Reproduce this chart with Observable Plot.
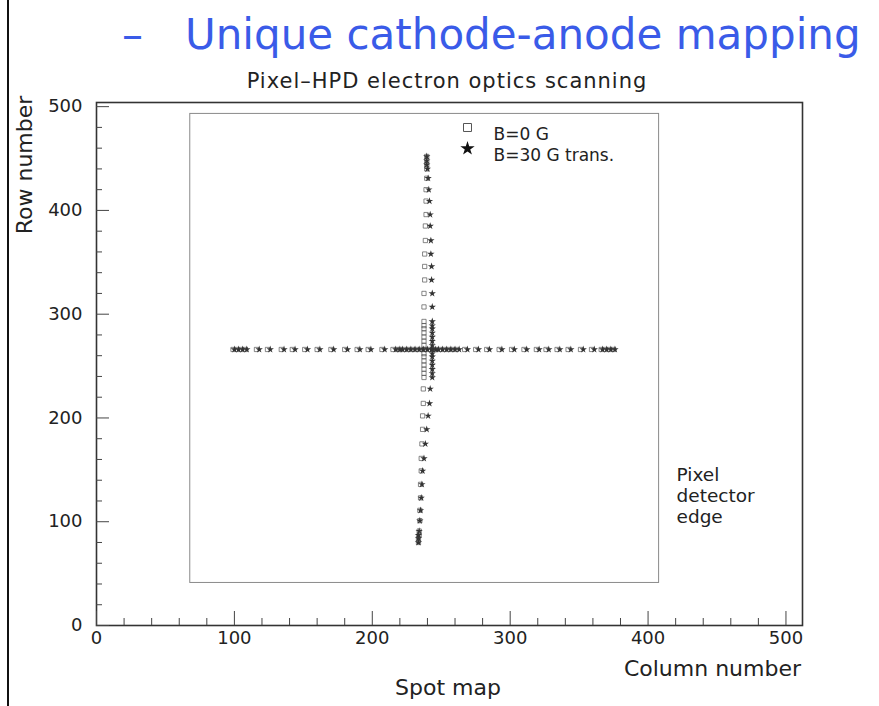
<!DOCTYPE html>
<html><head><meta charset="utf-8">
<script src="https://cdn.jsdelivr.net/npm/d3@7"></script>
<script src="https://cdn.jsdelivr.net/npm/@observablehq/plot@0.6"></script>
<style>
html,body{margin:0;padding:0;background:#fff;}
#wrap{position:relative;width:879px;height:706px;overflow:hidden;font-family:"DejaVu Sans",sans-serif;}
#chart{position:absolute;left:0;top:0;}
.t{position:absolute;white-space:nowrap;line-height:1;color:#222;}
#border{position:absolute;left:7px;top:0;width:2px;height:706px;background:#111;}
</style></head><body>
<div id="wrap"><div id="chart"></div><div id="border"></div></div>
<script>
// ---- data ----
// vertical scan (column ~fixed, rows stepped)
const vRowsB0  = [452,448,444,440,431,420,409,396,385,371,358,346,333,320,307,293,289,286,282,278,274,270,266,262,259,255,251,247,243,239,228,214,202,189,175,161,149,136,123,111,101,91,87,84,80];
const vColsB0  = [239.5,239.5,239.5,239.5,239.5,239,239,239,238.5,238.5,238,238,238,237.5,237.5,237.5,237.5,237.5,237.5,237.5,237.5,237.5,237.5,237.5,237.5,237.5,237.5,237.5,237.5,237.5,237,237,236.5,236.5,236,235.5,235.5,235,235,234.5,234.5,234,234,233.5,233.5];
const vRowsB30 = [452,448,444,440,431,420,409,396,385,371,358,346,333,320,307,293,289,286,282,278,274,270,266,262,259,255,251,247,243,239,228,214,202,189,175,161,149,136,123,111,101,91,87,84,80];
const vColsB30 = [239.5,239.5,239.5,240,240.5,241,241.5,242,242,242.5,242.5,243,243,243.5,243.5,243.5,243.5,243.5,243.5,243.5,243.5,243.5,243.5,243.5,243.5,243.5,243.5,243.5,243.5,243.5,242,241.5,240.5,239.5,238.5,237.5,236.5,236,235.5,235,234.5,234,233.5,233.5,233.5];
// horizontal scan (row ~fixed, columns stepped)
const hColsB0  = [99,102,105,108,116,124,134,142,151,160,170,180,189,197,207,215,218,220,223,226,229,232,235,238,241,244,246,249,252,255,258,261,267,275,283,292,301,310,319,326,334,342,351,359,366,369,372,375];
const hRowsB0  = [266,266,266,266,266,266,266,266,266,266,266,266,266,266,266,266,266,266,266,266,266,266,266,266,266,266,266,266,266,266,266,266,266,266,266,266,266,266,266,266,266,266,266,266,266,266,266,266];
const hColsB30 = [100,103,106,109,118,126,136,144,153,162,172,182,191,199,209,217,220,222,225,228,231,234,237,240,243,246,248,251,254,257,260,263,269,277,285,294,303,312,321,328,336,344,353,361,367,370,373,376];
const hRowsB30 = [266,266,266,266,266,266,266,266,266,266,266,266,266,266,266,266,266,266,266,266,266,266,266,266,266,266,266,266,266,266,266,266,266,266,266,266,266,266,266,266,266,266,266,266,266,266,266,266];
// pixel detector edge (column/row bounds)
const detCols = [68, 408];
const detRows = [41, 493];
// axes
const xDomain = [0, 512];
const yDomain = [0, 504];
const xMajor = [0,100,200,300,400,500];
const yMajor = [0,100,200,300,400,500];
const xMinor = [20,40,60,80,120,140,160,180,220,240,260,280,320,340,360,380,420,440,460,480];
const yMinor = [20,40,60,80,120,140,160,180,220,240,260,280,320,340,360,380,420,440,460,480];
const legendLabels = ["B=0 G", "B=30 G trans."];

const b0 = vRowsB0.map((r,i)=>({x:vColsB0[i], y:r})).concat(hColsB0.map((c,i)=>({x:c, y:hRowsB0[i]})));
const b30 = vRowsB30.map((r,i)=>({x:vColsB30[i], y:r})).concat(hColsB30.map((c,i)=>({x:c, y:hRowsB30[i]})));

const ink = "#222";
const chart = Plot.plot({
  width: 879, height: 706,
  marginTop: 102, marginRight: 77, marginBottom: 81, marginLeft: 96,
  x: {domain: xDomain},
  y: {domain: yDomain},
  style: {fontFamily: "DejaVu Sans, sans-serif", fontSize: "18px", color: ink, background: "transparent", overflow: "visible"},
  marks: [
    Plot.rect([0], {x1: () => detCols[0], x2: () => detCols[1], y1: () => detRows[0], y2: () => detRows[1], fill: "none", stroke: "#8a8a8a", strokeWidth: 1}),
    Plot.frame({stroke: "#333", strokeWidth: 1.6}),
    Plot.axisX({ticks: xMinor, tickSize: -7, tickFormat: () => "", label: null, stroke: "#444"}),
    Plot.axisX({ticks: xMajor, tickSize: -14, tickFormat: () => "", label: null, stroke: "#444"}),
    Plot.axisX({ticks: xMajor, tickSize: 0, tickPadding: 6, label: null, fontSize: 18, fill: ink}),
    Plot.axisY({ticks: yMinor, tickSize: -6, tickFormat: () => "", label: null, stroke: "#444"}),
    Plot.axisY({ticks: yMajor, tickSize: -13, tickFormat: () => "", label: null, stroke: "#444"}),
    Plot.axisY({ticks: yMajor, tickSize: 0, tickPadding: 14, label: null, fontSize: 18, fill: ink}),
    Plot.dot(b0, {x: "x", y: "y", symbol: "square", r: 2.4, stroke: "#555", strokeWidth: 0.7, fill: "none"}),
    Plot.dot(b30, {x: "x", y: "y", symbol: "star", r: 2.3, fill: "#333", stroke: "none"}),
    // legend
    Plot.dot([legendLabels[0]], {frameAnchor: "top-left", dx: 371, dy: 25, symbol: "square", r: 4.5, stroke: "#555", strokeWidth: 1, fill: "none"}),
    Plot.dot([legendLabels[1]], {frameAnchor: "top-left", dx: 371, dy: 46, symbol: "star", r: 4.5, fill: "#111", stroke: "none"}),
    Plot.text([legendLabels[0]], {text: d => d, frameAnchor: "top-left", dx: 397, dy: 25, textAnchor: "start", fontSize: 17, fill: ink}),
    Plot.text([legendLabels[1]], {text: d => d, frameAnchor: "top-left", dx: 397, dy: 46, textAnchor: "start", fontSize: 17, fill: ink}),
    Plot.text(["Pixel\ndetector\nedge"], {text: d => d, frameAnchor: "top-left", dx: 580, dy: 363, textAnchor: "start", lineAnchor: "top", lineHeight: 1.15, fontSize: 18.5, fill: ink})
  ]
});
document.getElementById("chart").appendChild(chart);

// ---- text overlays ----
const wrap = document.getElementById("wrap");
function place(txt, x, baseline, fs, anchor, opts = {}) {
  const d = document.createElement("div");
  d.className = "t";
  d.textContent = txt;
  d.style.fontSize = fs + "px";
  d.style.left = x + "px";
  d.style.top = (baseline - 0.846 * fs) + "px";
  if (opts.color) d.style.color = opts.color;
  if (opts.ls) d.style.letterSpacing = opts.ls + "px";
  const tx = anchor === "middle" ? "-50%" : anchor === "end" ? "-100%" : "0";
  d.style.transform = `translateX(${tx})`;
  wrap.appendChild(d);
  return d;
}
const blue = "#3a5be8";
place("–", 122, 50, 42, "start", {color: blue});
place("Unique cathode-anode mapping", 185, 50, 42, "start", {color: blue});
place("Pixel–HPD electron optics scanning", 447, 89, 21, "middle", {ls: 1});
place("Column number", 801, 677, 22, "end");
place("Spot map", 448, 696, 22, "middle");
const rl = document.createElement("div");
rl.className = "t";
rl.textContent = "Row number";
rl.style.fontSize = "22px";
rl.style.left = "25px";
rl.style.top = "165px";
rl.style.transform = "translate(-50%,-50%) rotate(-90deg)";
wrap.appendChild(rl);
</script>
</body></html>
